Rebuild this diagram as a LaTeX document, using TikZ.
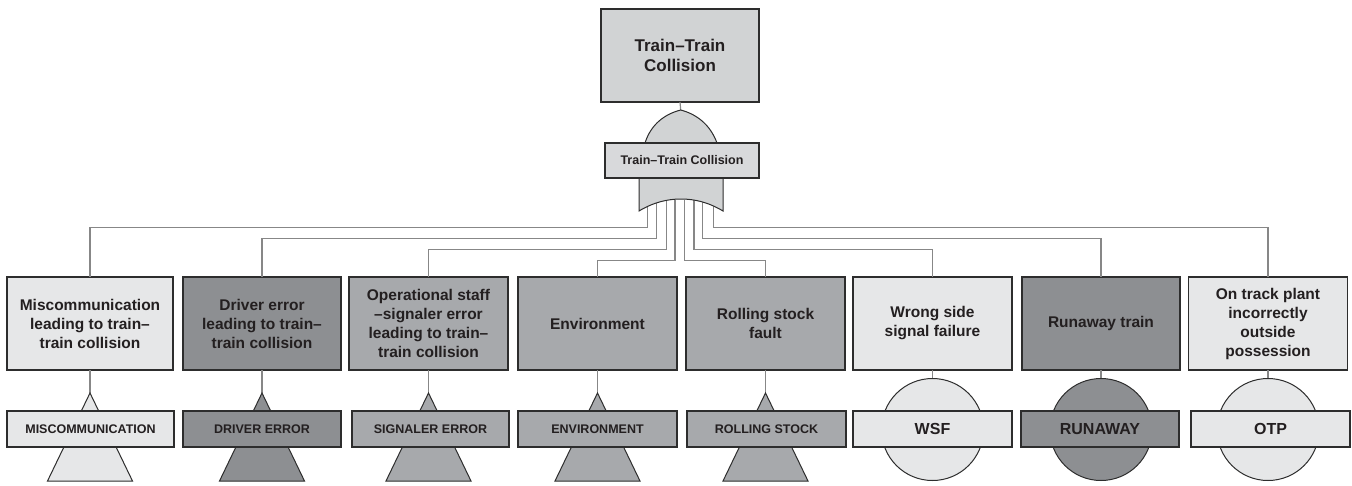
\documentclass[tikz,border=0pt]{standalone}
\usepackage{fontspec}
\setmainfont{Liberation Sans}
\definecolor{lightbox}{RGB}{230,231,232}
\definecolor{midbox}{RGB}{167,169,172}
\definecolor{darkbox}{RGB}{141,143,146}
\definecolor{topbox}{RGB}{209,211,212}
\definecolor{gatelbl}{RGB}{216,217,219}
\definecolor{txt}{RGB}{35,31,32}
\definecolor{connc}{RGB}{135,135,135}
\definecolor{edgec}{RGB}{45,45,45}
\begin{document}
\begin{tikzpicture}[x=1pt,y=-1pt,
  evbox/.style={draw=edgec, line width=1.1pt, minimum height=93pt, inner sep=2pt, outer sep=0pt, align=center, text=txt, font=\fontsize{15.5}{19}\selectfont\bfseries},
  lblbox/.style={draw=edgec, line width=1.1pt, minimum height=36pt, inner sep=1pt, outer sep=0pt, text=txt, font=\fontsize{12.5}{14}\selectfont\bfseries},
  biglbl/.style={lblbox, font=\fontsize{16}{18}\selectfont\bfseries},
  gateshape/.style={draw=edgec, line width=1pt},
  connline/.style={draw=connc, line width=1.2pt}
]
\useasboundingbox (0,0) rectangle (1352,485);

% top event and OR gate label
\node[evbox, fill=topbox, minimum width=158pt, font=\fontsize{17}{20.7}\selectfont\bfseries] (top) at (680,55.5) {Train--Train\\Collision};
\coordinate (ga) at (680.7,110);

% leaf event boxes
\node[evbox, fill=lightbox, minimum width=166pt] (b1) at (90,323.5) {Miscommunication\\leading to train--\\train collision};
\node[evbox, fill=darkbox, minimum width=158pt] (b2) at (262,323.5) {Driver error\\leading to train--\\train collision};
\node[evbox, fill=midbox, minimum width=159pt] (b3) at (428.5,323.5) {Operational staff\\--signaler error\\leading to train--\\train collision};
\node[evbox, fill=midbox, minimum width=159pt] (b4) at (597.5,323.5) {Environment};
\node[evbox, fill=midbox, minimum width=159pt] (b5) at (765.5,323.5) {Rolling stock\\fault};
\node[evbox, fill=lightbox, minimum width=159pt] (b6) at (932.5,323.5) {Wrong side\\signal failure};
\node[evbox, fill=darkbox, minimum width=158pt] (b7) at (1101,323.5) {Runaway train};
\node[evbox, fill=lightbox, minimum width=159pt] (b8) at (1268,323.5) {On track plant\\incorrectly\\outside\\possession};

% gate input points and levels
\coordinate (gs1) at (647.3,200);
\coordinate (gs2) at (656.3,200);
\coordinate (gs3) at (666.7,200);
\coordinate (gs4) at (675,200);
\coordinate (gs5) at (684.3,200);
\coordinate (gs6) at (694,200);
\coordinate (gs7) at (702.7,200);
\coordinate (gs8) at (713.3,200);
\coordinate (lv1) at (0,227.7);
\coordinate (lv2) at (0,238.3);
\coordinate (lv3) at (0,249.3);
\coordinate (lv4) at (0,260.7);

\draw[connline] (gs1) |- (lv1 -| b1.north) -- (b1.north);
\draw[connline] (gs2) |- (lv2 -| b2.north) -- (b2.north);
\draw[connline] (gs3) |- (lv3 -| b3.north) -- (b3.north);
\draw[connline] (gs4) |- (lv4 -| b4.north) -- (b4.north);
\draw[connline] (gs5) |- (lv4 -| b5.north) -- (b5.north);
\draw[connline] (gs6) |- (lv3 -| b6.north) -- (b6.north);
\draw[connline] (gs7) |- (lv2 -| b7.north) -- (b7.north);
\draw[connline] (gs8) |- (lv1 -| b8.north) -- (b8.north);

% OR gate
\draw[connline] (top.south) -- (ga);
\draw[gateshape, fill=topbox] (645,143) .. controls (651,124) and (665,114) .. (ga) .. controls (696,114) and (710,124) .. (717,143);
\draw[gateshape, fill=topbox] (639,178) -- (639,211) .. controls (654,202) and (668,199) .. (681,199) .. controls (694,199) and (708,202) .. (723,211) -- (723,178);
\node[lblbox, fill=gatelbl, minimum width=154pt, minimum height=35pt] (gl) at (682,160.5) {Train--Train Collision};

% leaf gates: transfer triangles
\foreach \b/\c in {b1/lightbox,b2/darkbox,b3/midbox,b4/midbox,b5/midbox}{
  \coordinate (\b apex) at ([yshift=-23pt]\b.south);
  \draw[connline] (\b.south) -- (\b apex);
  \draw[gateshape, fill=\c] (\b apex) -- ++(-42.5,88) -- ++(85,0) -- cycle;
}
% leaf gates: circles
\foreach \b/\c in {b6/lightbox,b7/darkbox,b8/lightbox}{
  \coordinate (\b ctr) at ([yshift=-59.5pt]\b.south);
  \draw[connline] (\b.south) -- ++(0,10);
  \draw[gateshape, fill=\c] (\b ctr) circle (51);
}

\node[lblbox, fill=lightbox, minimum width=167pt] (l1) at (90.5,429) {MISCOMMUNICATION};
\node[lblbox, fill=darkbox, minimum width=158pt] (l2) at (262,429) {DRIVER ERROR};
\node[lblbox, fill=midbox, minimum width=157pt] (l3) at (430.5,429) {SIGNALER ERROR};
\node[lblbox, fill=midbox, minimum width=159pt] (l4) at (597.5,429) {ENVIRONMENT};
\node[lblbox, fill=midbox, minimum width=159pt] (l5) at (766.5,429) {ROLLING STOCK};
\node[biglbl, fill=lightbox, minimum width=159pt] (l6) at (932.5,429) {WSF};
\node[biglbl, fill=darkbox, minimum width=158pt] (l7) at (1100,429) {RUNAWAY};
\node[biglbl, fill=lightbox, minimum width=159pt] (l8) at (1270.5,429) {OTP};
\end{tikzpicture}
\end{document}
